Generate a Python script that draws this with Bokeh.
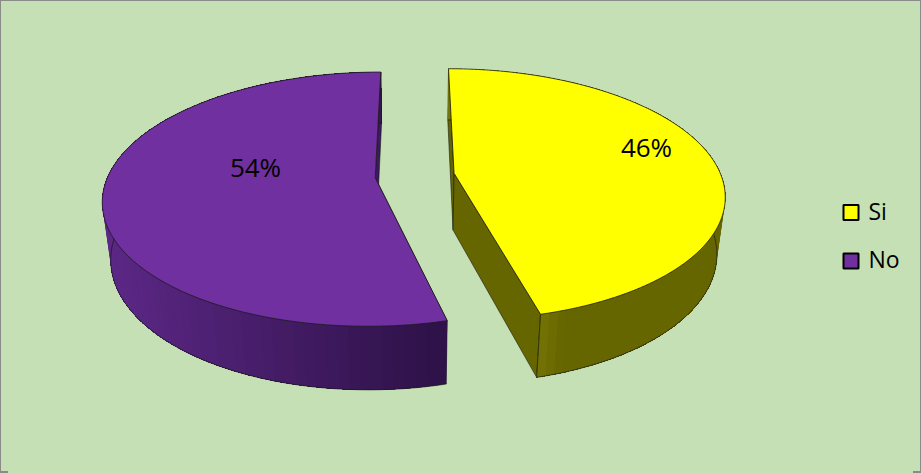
import numpy as np
from bokeh.plotting import figure
from bokeh.embed import file_html
from bokeh.resources import INLINE
from bokeh.core.properties import value

# ---- data ----
categories = ["Si", "No"]
shares = [46, 54]
colors = ["#FFFF00", "#7030A0"]
bg = "#C5E0B4"

# ---- 3D pie camera (page pixels) ----
XC_SLICE = [415.0, 413.5]
YH, F, G = -556.0, 1590.0, 4353.0
D, EXPLODE, FIRST = 5.955, 0.146, 0.0
DW_BOTTOM, G_BOTTOM = 0.16, 4818.0


def project(X, Y, xc, bottom=False):
    W = D + np.asarray(Y, float)
    if bottom:
        W = W + DW_BOTTOM
        return xc + F * np.asarray(X) / W, YH + G_BOTTOM / W
    return xc + F * np.asarray(X) / W, YH + G / W


fracs = np.array(shares) / sum(shares)
edges = np.concatenate([[0], np.cumsum(fracs)]) * 2 * np.pi + FIRST

p = figure(width=905, height=457, x_range=(8, 913), y_range=(465, 8),
           toolbar_location=None, output_backend="svg", min_border=0,
           background_fill_color=bg, border_fill_color=bg, outline_line_color=None)
p.axis.visible = False
p.grid.visible = False

EDGE = "#1a1a1a"
tops = []
for i, (name, col) in enumerate(zip(categories, colors)):
    xc = XC_SLICE[i]
    a0, a1 = edges[i], edges[i + 1]
    mid = (a0 + a1) / 2
    cx, cy = EXPLODE * np.sin(mid), EXPLODE * np.cos(mid)
    t = np.linspace(a0, a1, 480)
    ax, ay = cx + np.sin(t), cy + np.cos(t)
    tx, ty = project(ax, ay, xc)
    bx, by = project(ax, ay, xc, bottom=True)
    ox, oy = project(np.array([cx]), np.array([cy]), xc)
    obx, oby = project(np.array([cx]), np.array([cy]), xc, bottom=True)
    wall_dark = "#666600" if i == 0 else "#3d1a5c"

    # cut walls
    p.patch([tx[0], ox[0], obx[0], bx[0]], [ty[0], oy[0], oby[0], by[0]],
            fill_color=wall_dark, line_color=EDGE, line_width=0.6)
    p.patch([tx[-1], ox[0], obx[0], bx[-1]], [ty[-1], oy[0], oby[0], by[-1]],
            fill_color=wall_dark, line_color=EDGE, line_width=0.6)

    # outer wall: each band runs to the far end, so later bands paint over it and no seam shows
    n_band = 96
    idx = np.linspace(0, len(t) - 1, n_band + 1).astype(int)
    for k in range(n_band):
        s, e = idx[k], len(t)
        sx = tx[s]
        if i == 0:
            u = np.clip((sx - 540) / 30, 0, 1)
            c0, c1 = np.array([118, 118, 6]), np.array([102, 102, 0])
        else:
            u = np.clip((sx - 110) / 335, 0, 1)
            c0, c1 = np.array([92, 40, 134]), np.array([46, 18, 72])
        c = (1 - u) * c0 + u * c1
        colr = "#%02x%02x%02x" % tuple(int(v) for v in c)
        p.patch(np.concatenate([tx[s:e], bx[s:e][::-1]]),
                np.concatenate([ty[s:e], by[s:e][::-1]]),
                fill_color=colr, line_color=None)
    p.line(bx, by, line_color=EDGE, line_width=0.7)
    p.line([tx[-1], bx[-1]], [ty[-1], by[-1]], line_color=EDGE, line_width=0.7)

    tops.append((np.concatenate([ox, tx]), np.concatenate([oy, ty]), col))

# top faces last
for x, y, col in tops:
    p.patch(x, y, fill_color=col, line_color=EDGE, line_width=0.8)

# percentage labels
label_x = [646, 255]
label_y = [146, 166]
p.text(label_x, label_y, text=[f"{v}%" for v in shares], text_font=value("Open Sans"),
       text_font_size="26px", text_align="center", text_baseline="middle", text_color="#000000")

# legend
leg_y = [212, 260.5]
p.scatter([850.5, 850.5], leg_y, marker="square", size=15, fill_color=colors,
          line_color="#000000", line_width=2)
p.text([868, 868], [v - 2 for v in leg_y], text=categories, text_font=value("Open Sans"),
       text_font_size="23px", text_align="left", text_baseline="middle", text_color="#000000")

html = file_html(p, INLINE)
css = ("<style>html{background:%s;min-height:100%%;box-shadow:inset 1px 1px 0 #8a8a8a,"
       "inset -1px -2px 0 #8a8a8a;overflow:hidden}body{background:%s;margin:8px}</style></head>" % (bg, bg))
html = html.replace("</head>", css, 1)
open("out.html", "w").write(html)
